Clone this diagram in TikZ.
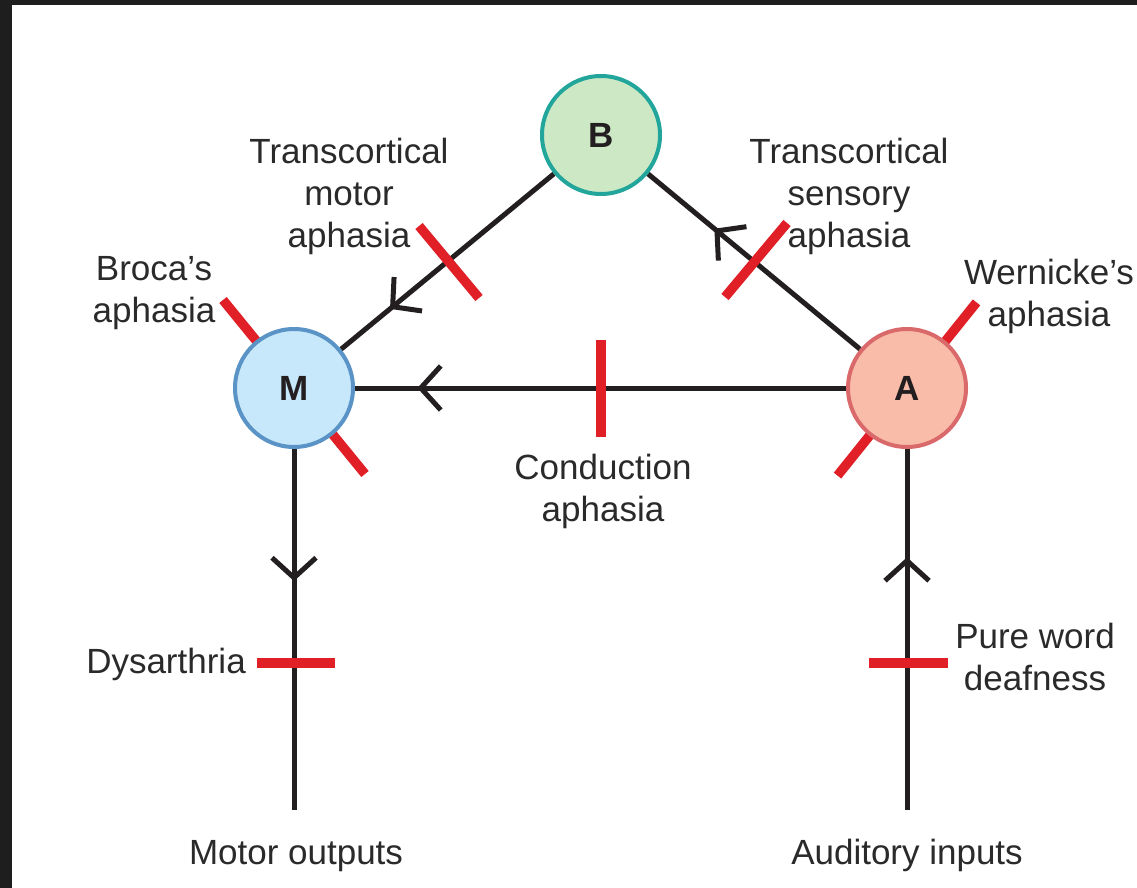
\documentclass[tikz,border=0pt]{standalone}
\usepackage{fontspec}
\setmainfont{Liberation Sans}
\usetikzlibrary{arrows.meta,decorations.markings}
\pgfdeclarelayer{background}
\pgfsetlayers{background,main}
\definecolor{ink}{HTML}{231F20}
\definecolor{txt}{HTML}{2A2A2A}
\definecolor{barred}{HTML}{E01F27}
\definecolor{bfill}{HTML}{CDE8C4}
\definecolor{bdraw}{HTML}{22A69C}
\definecolor{mfill}{HTML}{C7E7FA}
\definecolor{mdraw}{HTML}{5A93C6}
\definecolor{afill}{HTML}{F9BCA8}
\definecolor{adraw}{HTML}{D9696B}
\definecolor{frame}{HTML}{1E1E1E}
\tikzset{
  centre/.style={circle, line width=4pt, minimum size=118pt, inner sep=0pt,
    font=\fontsize{35}{42}\selectfont\bfseries, text=ink},
  wire/.style={line width=5pt, draw=ink},
  midarrow/.style={postaction={decorate}, decoration={markings,
    mark=at position #1 with {\arrow[line width=5pt, ink]{Straight Barb[length=20pt,width=44pt]}}}},
  lesion/.style={line width=9.5pt, draw=barred},
  lab/.style={font=\fontsize{35}{42}\selectfont, text=txt, align=center, inner sep=0pt}
}
\begin{document}
\begin{tikzpicture}[x=1pt, y=-1pt]
\useasboundingbox (0,0) rectangle (1137,888);
\begin{pgfonlayer}{background}
\fill[frame] (0,0) rectangle (1137,888);
\fill[white] (12,5) rectangle (1137,888);
\end{pgfonlayer}

% centres
\node[centre, fill=bfill, draw=bdraw] (B) at (601,135) {B};
\node[centre, fill=mfill, draw=mdraw] (M) at (294,388) {M};
\node[centre, fill=afill, draw=adraw] (A) at (907,388) {A};
\coordinate (mo) at (294,810);
\coordinate (ai) at (907,810);

\begin{pgfonlayer}{background}
% connectors
\draw[wire, midarrow=0.77] (B) -- (M);
\draw[wire, midarrow=0.687] (A) -- (B);
\draw[wire, midarrow=0.873] (A) -- (M);
\draw[wire, midarrow=0.366] (M) -- (mo);
\draw[wire, midarrow=0.70] (ai) -- (A);
% lesions
\draw[lesion] (419,226) -- (479,298);
\draw[lesion] (787,223) -- (725,297);
\draw[lesion] (601,340) -- (601,437);
\draw[lesion] (223,300) -- (365,474);
\draw[lesion] (976.5,302.4) -- (837.5,475.6);
\draw[lesion] (257,663) -- (335,663);
\draw[lesion] (869,663) -- (948,663);
\end{pgfonlayer}

% labels
\node[lab] (tm) at (349,196) {Transcortical\\motor\\aphasia};
\node[lab] (ts) at (849,196) {Transcortical\\sensory\\aphasia};
\node[lab] (br) at (154,293) {Broca’s\\aphasia};
\node[lab] (we) at (1049,296) {Wernicke’s\\aphasia};
\node[lab] (co) at (603,491) {Conduction\\aphasia};
\node[lab, anchor=base] (dy) at (166,673) {Dysarthria};
\node[lab] (pw) at (1035,657) {Pure word\\deafness};
\node[lab, anchor=base] (mot) at (296,864) {Motor outputs};
\node[lab, anchor=base] (aud) at (907,864) {Auditory inputs};
\end{tikzpicture}
\end{document}
